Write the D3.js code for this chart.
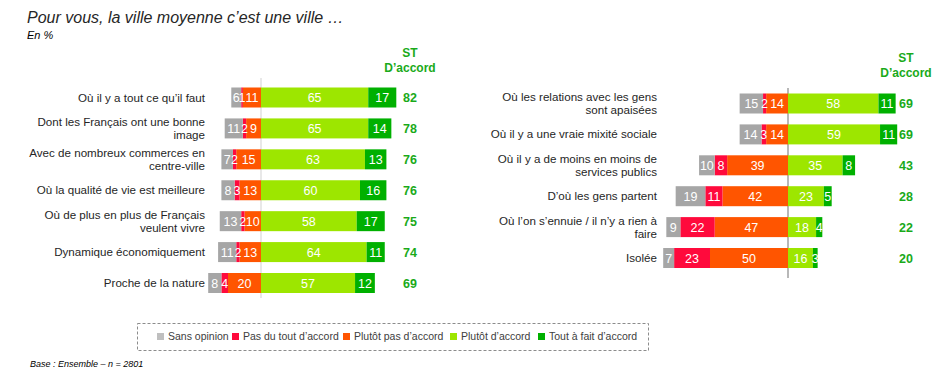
<!DOCTYPE html>
<html>
<head>
<meta charset="utf-8">
<script src="https://cdn.jsdelivr.net/npm/d3@7"></script>
<style>
  body { margin: 0; background: #fff; }
  svg { font-family: "Liberation Sans", Arial, sans-serif; }
</style>
</head>
<body>
<div id="chart"></div>
<script>
// answer categories (legend order)
const answerKeys = ["Sans opinion", "Pas du tout d’accord", "Plutôt pas d’accord", "Plutôt d’accord", "Tout à fait d’accord"];
const answerColors = ["#a6a6a6", "#ff0a3c", "#ff5500", "#9de600", "#00b000"];
const legendColors = ["#bfbfbf", "#ff0a3c", "#ff5500", "#9de600", "#00b000"];

// left panel
const leftLabels = [
  "Où il y a tout ce qu’il faut",
  "Dont les Français ont une bonne\nimage",
  "Avec de nombreux commerces en\ncentre-ville",
  "Où la qualité de vie est meilleure",
  "Où de plus en plus de Français\nveulent vivre",
  "Dynamique économiquement",
  "Proche de la nature"
];
const leftSansOpinion = [6, 11, 7, 8, 13, 11, 8];
const leftPasDuTout = [1, 2, 2, 3, 2, 2, 4];
const leftPlutotPas = [11, 9, 15, 13, 10, 13, 20];
const leftPlutot = [65, 65, 63, 60, 58, 64, 57];
const leftToutAFait = [17, 14, 13, 16, 17, 11, 12];
const leftST = [82, 78, 76, 76, 75, 74, 69];

// right panel
const rightLabels = [
  "Où les relations avec les gens\nsont apaisées",
  "Où il y a une vraie mixité sociale",
  "Où il y a de moins en moins de\nservices publics",
  "D’où les gens partent",
  "Où l’on s’ennuie / il n’y a rien à\nfaire",
  "Isolée"
];
const rightSansOpinion = [15, 14, 10, 19, 9, 7];
const rightPasDuTout = [2, 3, 8, 11, 22, 23];
const rightPlutotPas = [14, 14, 39, 42, 47, 50];
const rightPlutot = [58, 59, 35, 23, 18, 16];
const rightToutAFait = [11, 11, 8, 5, 4, 3];
const rightST = [69, 69, 43, 28, 22, 20];

const W = 945, H = 375;
const svg = d3.select("#chart").append("svg")
  .attr("width", W).attr("height", H);

// title
svg.append("text").attr("x", 27).attr("y", 23)
  .style("font-size", "16px").style("font-style", "italic").attr("fill", "#262626")
  .text("Pour vous, la ville moyenne c’est une ville …");
svg.append("text").attr("x", 27).attr("y", 39)
  .style("font-size", "11px").style("font-style", "italic").attr("fill", "#000")
  .text("En %");

function drawPanel(cfg) {
  const n = cfg.labels.length;
  const rows = d3.range(n).map(i => ({
    label: cfg.labels[i],
    vals: [cfg.sans[i], cfg.pdt[i], cfg.pp[i], cfg.p[i], cfg.taf[i]],
    st: cfg.st[i]
  }));

  const x = d3.scaleLinear().domain([-100, 100]).range([cfg.zero - 100 * cfg.k, cfg.zero + 100 * cfg.k]);
  const y = d3.scalePoint().domain(d3.range(n)).range(cfg.yRange);
  const barH = 20;

  const g = svg.append("g");

  // zero line
  g.append("line")
    .attr("x1", x(0)).attr("x2", x(0))
    .attr("y1", cfg.lineY[0]).attr("y2", cfg.lineY[1])
    .attr("stroke", cfg.lineColor).attr("stroke-width", 1.5);

  // segments
  rows.forEach((r, i) => {
    const [s, pdt, pp, p, taf] = r.vals;
    const segs = [
      { k: 2, a: -pp, b: 0, v: pp },
      { k: 1, a: -(pp + pdt), b: -pp, v: pdt },
      { k: 0, a: -(pp + pdt + s), b: -(pp + pdt), v: s },
      { k: 3, a: 0, b: p, v: p },
      { k: 4, a: p, b: p + taf, v: taf }
    ];
    const row = g.append("g");
    row.selectAll("rect").data(segs).join("rect")
      .attr("x", d => x(d.a))
      .attr("y", y(i) - barH / 2)
      .attr("width", d => x(d.b) - x(d.a))
      .attr("height", barH)
      .attr("fill", d => answerColors[d.k]);
    row.selectAll("text").data(segs).join("text")
      .attr("x", d => (x(d.a) + x(d.b)) / 2)
      .attr("y", y(i))
      .attr("dy", "0.36em")
      .attr("text-anchor", "middle")
      .attr("fill", "#fff")
      .style("font-size", "12.5px")
      .text(d => d.v);

    // category label
    const lines = r.label.split("\n");
    const lt = g.append("text")
      .attr("x", cfg.labelX)
      .attr("text-anchor", "end")
      .attr("fill", "#262626")
      .style("font-size", "11.6px");
    lines.forEach((ln, j) => {
      lt.append("tspan")
        .attr("x", cfg.labelX)
        .attr("y", y(i) + 4 + (j - (lines.length - 1) / 2) * 13)
        .text(ln);
    });

    // ST value
    g.append("text")
      .attr("x", cfg.stX).attr("y", y(i)).attr("dy", "0.36em")
      .attr("text-anchor", "middle")
      .attr("fill", "#1aaa1a")
      .style("font-size", "12.5px").style("font-weight", "bold")
      .text(r.st);
  });

  // ST header
  const hd = g.append("text").attr("text-anchor", "middle")
    .attr("fill", "#1aaa1a").style("font-size", "12px").style("font-weight", "bold");
  hd.append("tspan").attr("x", cfg.stX).attr("y", cfg.headY).text("ST");
  hd.append("tspan").attr("x", cfg.stX).attr("y", cfg.headY + 15).text("D’accord");
}

drawPanel({
  labels: leftLabels, sans: leftSansOpinion, pdt: leftPasDuTout, pp: leftPlutotPas,
  p: leftPlutot, taf: leftToutAFait, st: leftST,
  zero: 261, k: 1.65, yRange: [97.5, 283], lineY: [78, 298], lineColor: "#e0e0e0",
  labelX: 205, stX: 410, headY: 57
});

drawPanel({
  labels: rightLabels, sans: rightSansOpinion, pdt: rightPasDuTout, pp: rightPlutotPas,
  p: rightPlutot, taf: rightToutAFait, st: rightST,
  zero: 788, k: 1.56, yRange: [103.5, 258], lineY: [88, 278], lineColor: "#a0a0a0",
  labelX: 657, stX: 906, headY: 62
});

// legend
const legend = svg.append("g");
legend.append("rect")
  .attr("x", 137.5).attr("y", 323.5).attr("width", 511).attr("height", 27)
  .attr("fill", "none").attr("stroke", "#8c8c8c").attr("stroke-dasharray", "3,2");
const legendX = [157, 232, 343, 450, 538];
answerKeys.forEach((k, i) => {
  legend.append("rect")
    .attr("x", legendX[i]).attr("y", 333).attr("width", 7).attr("height", 7)
    .attr("fill", legendColors[i]);
  legend.append("text")
    .attr("x", legendX[i] + 11).attr("y", 336.5).attr("dy", "0.36em")
    .attr("fill", "#404040").style("font-size", "10.5px")
    .text(k);
});

// footer
svg.append("text").attr("x", 30).attr("y", 367)
  .style("font-size", "9px").style("font-style", "italic").attr("fill", "#000")
  .text("Base : Ensemble – n = 2801");
</script>
</body>
</html>
